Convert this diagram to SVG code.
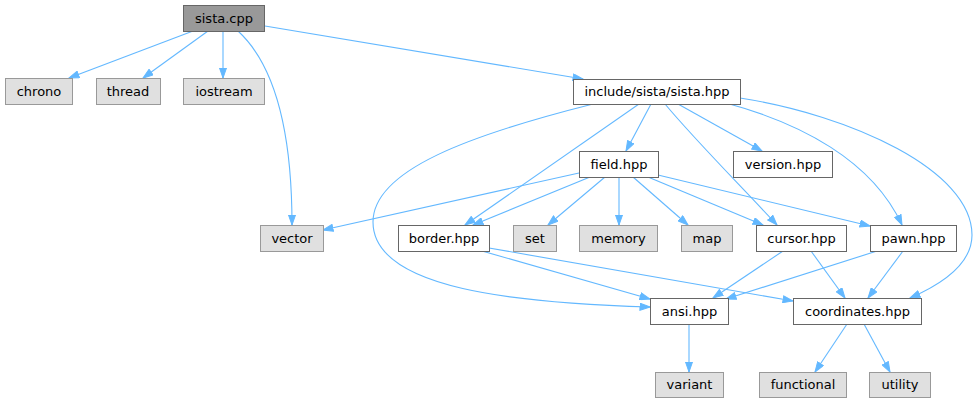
<svg xmlns="http://www.w3.org/2000/svg" width="977" height="403" viewBox="0 0 977 403">
<style>
text{font-family:"DejaVu Sans",sans-serif;font-size:13px;fill:#000;text-anchor:middle}
.sys rect{fill:#e0e0e0;stroke:#999999;stroke-width:1}
.loc rect{fill:#ffffff;stroke:#666666;stroke-width:1}
.root rect{fill:#999999;stroke:#666666;stroke-width:1}
#edges path{fill:none;stroke:#63b8ff;stroke-width:1.1;marker-end:url(#ah)}
</style>
<defs>
<marker id="ah" viewBox="0 0 11 8" refX="10.5" refY="4" markerWidth="11" markerHeight="8" markerUnits="userSpaceOnUse" orient="auto">
<path d="M0.5,0.5 L10.5,4 L0.5,7.5 z" fill="#63b8ff" stroke="#63b8ff" stroke-width="1"/>
</marker>
</defs>
<rect width="977" height="403" fill="#ffffff"/>
<g id="edges">
<path d="M193,31 L69,78"/>
<path d="M208,31 L143,78"/>
<path d="M223,31 L223,78"/>
<path d="M238,31 C275,65 292,130 292,225"/>
<path d="M265,26 L583,79"/>
<path d="M651,104 L626,151"/>
<path d="M678,104 L762,151"/>
<path d="M639,104 L465,225"/>
<path d="M593,104 C470,135 373,170 373,222 C373,290 520,303 650,307"/>
<path d="M665,104 C695,140 740,185 777,225"/>
<path d="M726,103 C800,123 872,160 902,225"/>
<path d="M740,98 C850,115 972,170 972,235 C972,265 940,285 910,298"/>
<path d="M579,173 L323,230"/>
<path d="M590,177 L473,225"/>
<path d="M605,177 L548,225"/>
<path d="M619,177 L619,225"/>
<path d="M633,177 L688,225"/>
<path d="M648,177 L763,225"/>
<path d="M658,175 L870,226"/>
<path d="M482,251 L650,299"/>
<path d="M489,248 L793,301"/>
<path d="M783,251 L713,298"/>
<path d="M811,251 L845,298"/>
<path d="M877,251 L726,299"/>
<path d="M903,251 L868,298"/>
<path d="M689,324 L689,372"/>
<path d="M847,324 L815,372"/>
<path d="M864,324 L890,372"/>
</g>
<g id="sista_cpp" class="root"><rect x="183.5" y="5.5" width="81" height="26"/><text x="224" y="23">sista.cpp</text></g>
<g id="chrono" class="sys"><rect x="5.5" y="78.5" width="67" height="26"/><text x="39" y="96">chrono</text></g>
<g id="thread" class="sys"><rect x="96.5" y="78.5" width="64" height="26"/><text x="128" y="96">thread</text></g>
<g id="iostream" class="sys"><rect x="183.5" y="78.5" width="81" height="26"/><text x="224" y="96">iostream</text></g>
<g id="sista_hpp" class="loc"><rect x="573.5" y="79.5" width="167" height="25"/><text x="657" y="96">include/sista/sista.hpp</text></g>
<g id="field_hpp" class="loc"><rect x="579.5" y="151.5" width="79" height="26"/><text x="619" y="169">field.hpp</text></g>
<g id="version_hpp" class="loc"><rect x="733.5" y="151.5" width="99" height="26"/><text x="783" y="169">version.hpp</text></g>
<g id="vector" class="sys"><rect x="260.5" y="225.5" width="63" height="26"/><text x="292" y="243">vector</text></g>
<g id="border_hpp" class="loc"><rect x="398.5" y="225.5" width="91" height="26"/><text x="444" y="243">border.hpp</text></g>
<g id="set" class="sys"><rect x="513.5" y="225.5" width="43" height="26"/><text x="535" y="243">set</text></g>
<g id="memory" class="sys"><rect x="579.5" y="225.5" width="78" height="26"/><text x="618.5" y="243">memory</text></g>
<g id="map" class="sys"><rect x="681.5" y="225.5" width="51" height="26"/><text x="707" y="243">map</text></g>
<g id="cursor_hpp" class="loc"><rect x="756.5" y="225.5" width="90" height="26"/><text x="801.5" y="243">cursor.hpp</text></g>
<g id="pawn_hpp" class="loc"><rect x="870.5" y="225.5" width="86" height="26"/><text x="913.5" y="243">pawn.hpp</text></g>
<g id="ansi_hpp" class="loc"><rect x="650.5" y="298.5" width="78" height="26"/><text x="689.5" y="316">ansi.hpp</text></g>
<g id="coordinates_hpp" class="loc"><rect x="793.5" y="298.5" width="128" height="26"/><text x="857.5" y="316">coordinates.hpp</text></g>
<g id="variant" class="sys"><rect x="655.5" y="372.5" width="68" height="25"/><text x="689.5" y="389">variant</text></g>
<g id="functional" class="sys"><rect x="759.5" y="372.5" width="87" height="25"/><text x="803" y="389">functional</text></g>
<g id="utility" class="sys"><rect x="869.5" y="372.5" width="61" height="25"/><text x="900" y="389">utility</text></g>
</svg>
